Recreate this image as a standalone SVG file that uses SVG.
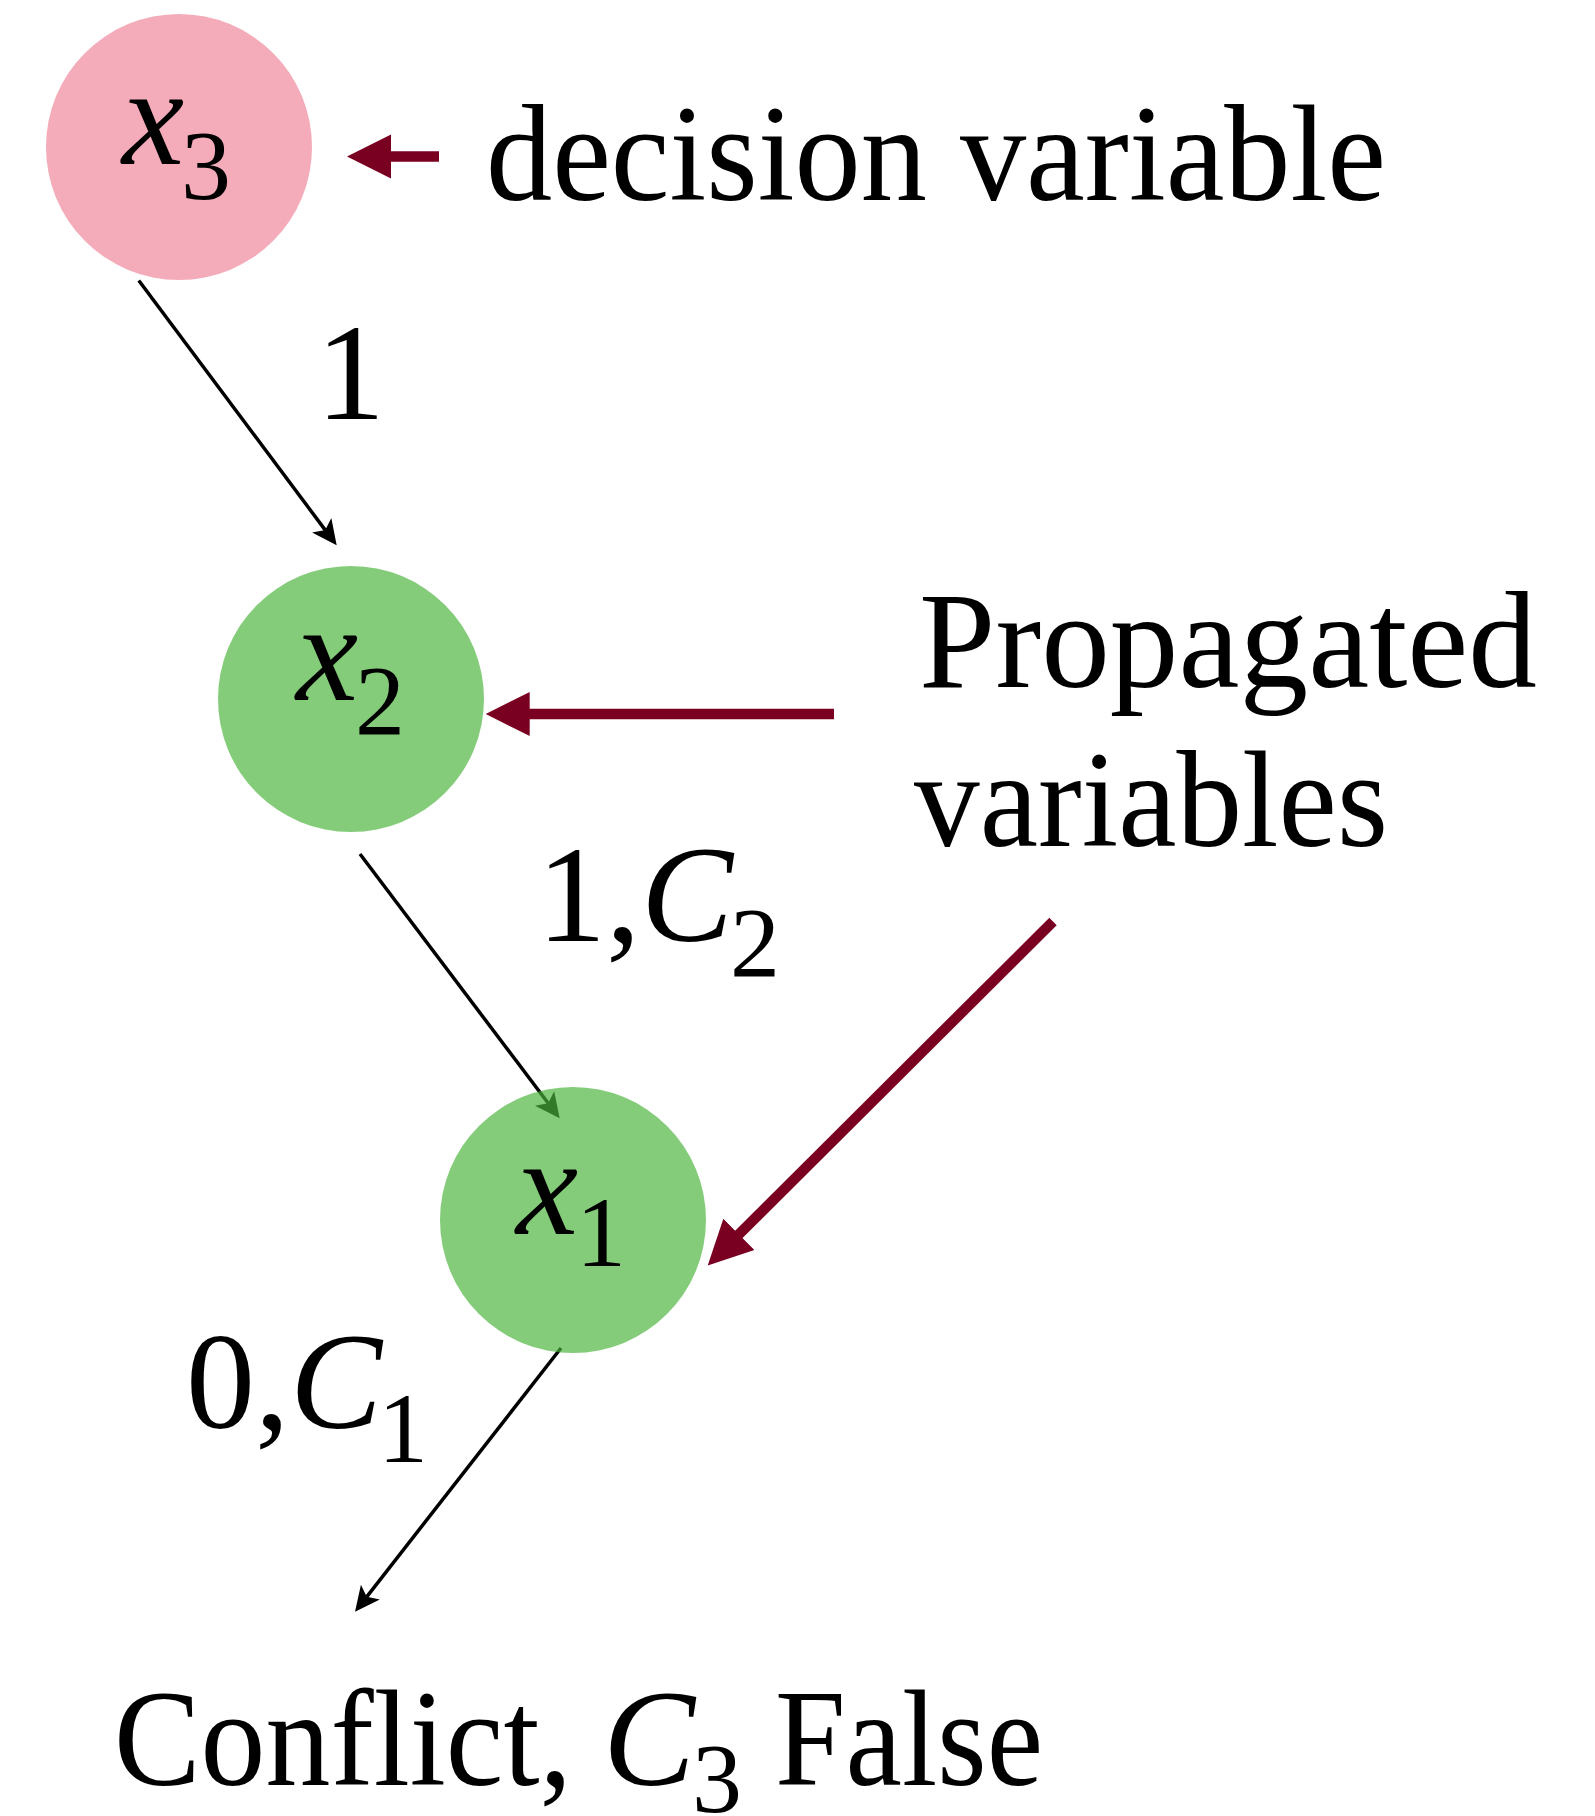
<svg xmlns="http://www.w3.org/2000/svg" width="1595" height="1816" viewBox="0 0 1595 1816">
<style>
.t{font-family:"Liberation Serif","Times New Roman",serif;font-size:138px;fill:#000}
.m{font-family:"Liberation Serif","Times New Roman",serif;font-style:italic;font-size:140px;fill:#000}
.s{font-family:"Liberation Serif","Times New Roman",serif;font-size:100px;fill:#000}
.ci{font-style:italic}
.blk{stroke:#000;stroke-width:3.5;fill:none;marker-end:url(#ab)}
.red{stroke:#7A0022;stroke-width:10.5;fill:none;marker-end:url(#ar)}
.pink{fill:#F4ABBA}
.green{fill:rgb(73,180,59);fill-opacity:0.68}
</style>
<defs>
<marker id="ab" markerUnits="userSpaceOnUse" viewBox="0 -13 26 26" refX="6" refY="0" markerWidth="26" markerHeight="26" orient="auto">
<path d="M0,-12 L25,0 L0,12 L6,0 z" fill="#000"/>
</marker>
<marker id="ar" markerUnits="userSpaceOnUse" viewBox="0 -23 45 46" refX="10" refY="0" markerWidth="45" markerHeight="46" orient="auto">
<path d="M0,-22 L44,0 L0,22 z" fill="#7A0022"/>
</marker>
</defs>
<g id="connectors">
<line class="blk" x1="138.8" y1="280.5" x2="325.3" y2="530.1"/>
<line class="blk" x1="360" y1="854" x2="548.2" y2="1103.2"/>
<line class="blk" x1="561" y1="1348" x2="366.7" y2="1596.8"/>
<line class="red" x1="439" y1="156.6" x2="381" y2="156.6"/>
<line class="red" x1="834" y1="714" x2="519.7" y2="714"/>
<line class="red" x1="1053" y1="921.5" x2="731.8" y2="1241.4"/>
</g>
<g id="node-x3">
<circle class="pink" cx="179" cy="147" r="133"/>
<text class="m" x="122" y="164">x</text>
<text class="s" x="181" y="199">3</text>
</g>
<g id="node-x2">
<circle class="green" cx="351" cy="699" r="133"/>
<text class="m" x="296" y="700">x</text>
<text class="s" x="355" y="734">2</text>
</g>
<g id="node-x1">
<circle class="green" cx="573" cy="1220" r="133"/>
<text class="m" x="516" y="1234">x</text>
<text class="s" x="576" y="1266">1</text>
</g>
<g id="labels">
<text class="t" x="486" y="200" textLength="900" lengthAdjust="spacingAndGlyphs">decision variable</text>
<text class="t" x="919" y="687" textLength="618" lengthAdjust="spacingAndGlyphs">Propagated</text>
<text class="t" x="914" y="846" textLength="474" lengthAdjust="spacingAndGlyphs">variables</text>
<text class="t" x="316" y="419">1</text>
<text class="t" x="537" y="941">1,</text>
<text class="t ci" x="641" y="941">C</text>
<text class="s" x="730" y="976">2</text>
<text class="t" x="186" y="1428">0,</text>
<text class="t ci" x="290" y="1428">C</text>
<text class="s" x="378" y="1462">1</text>
<text class="t" x="114" y="1785" textLength="458" lengthAdjust="spacingAndGlyphs">Conflict,</text>
<text class="t ci" x="603" y="1785">C</text>
<text class="s" x="692" y="1812">3</text>
<text class="t" x="775" y="1785" textLength="268" lengthAdjust="spacingAndGlyphs">False</text>
</g>
</svg>
